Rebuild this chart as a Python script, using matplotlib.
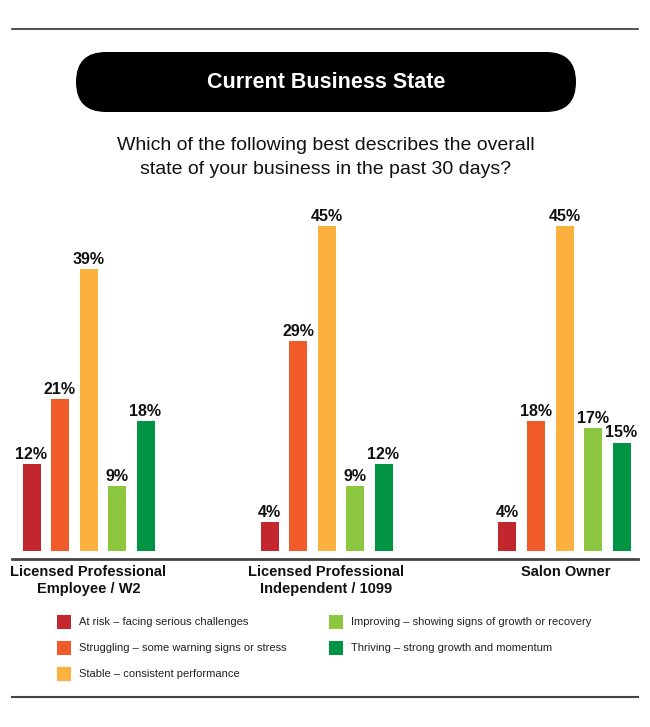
import matplotlib
matplotlib.use("Agg")
import matplotlib.pyplot as plt
from matplotlib.patches import FancyBboxPatch, Rectangle
from matplotlib.lines import Line2D
import numpy as np

plt.rcParams['font.family'] = ['Liberation Sans', 'DejaVu Sans']

groups = ["Licensed Professional\nEmployee / W2",
          "Licensed Professional\nIndependent / 1099",
          "Salon Owner"]
series = ["At risk \u2013 facing serious challenges",
          "Struggling \u2013 some warning signs or stress",
          "Stable \u2013 consistent performance",
          "Improving \u2013 showing signs of growth or recovery",
          "Thriving \u2013 strong growth and momentum"]
values = [
    [12, 4, 4],    # At risk
    [21, 29, 18],  # Struggling
    [39, 45, 45],  # Stable
    [9, 9, 17],    # Improving
    [18, 12, 15],  # Thriving
]
colors = ["#C1272D", "#F15A29", "#FBB040", "#8DC63F", "#009444"]

W, H = 650, 727
fig = plt.figure(figsize=(W / 100, H / 100), dpi=100)

def fx(px):
    return px / W

def fy(py):
    return 1 - py / H

# Axes: pixel x 12..638, y baseline 551 up to 200
ax_left, ax_right = 12, 638
ax_top, ax_bottom = 200, 551
ax = fig.add_axes([fx(ax_left), fy(ax_bottom), fx(ax_right - ax_left),
                   (ax_bottom - ax_top) / H])
px_per_unit = 238.0
px_per_pct = 7.23
centers_px = np.array([88.5, 326.5, 564.5]) - ax_left
ax.set_xlim(-centers_px[0] / px_per_unit,
            (ax_right - ax_left - centers_px[0]) / px_per_unit)
ax.set_ylim(0, (ax_bottom - ax_top) / px_per_pct)
ax.axis('off')

x = np.arange(len(groups))
bw = 18 / px_per_unit
step = 28.5 / px_per_unit
for i, (vals, c) in enumerate(zip(values, colors)):
    xs = x + (i - 2) * step
    ax.bar(xs, vals, width=bw, color=c, linewidth=0)
    for xi, v in zip(xs, vals):
        ax.annotate(f"{v}%", (xi, v), xytext=(0, 1.5), textcoords='offset points',
                    ha='center', va='bottom', fontsize=11.5, fontweight='bold',
                    color='#111111')

# Lines
fig.add_artist(Line2D([fx(12), fx(638)], [fy(29), fy(29)], color='#333333', lw=1.2))
fig.add_artist(Line2D([fx(12), fx(638)], [fy(558.5), fy(558.5)], color='#444444', lw=2))
fig.add_artist(Line2D([fx(12), fx(638)], [fy(697), fy(697)], color='#444444', lw=1.5))

# Title pill
pill = FancyBboxPatch((fx(76), fy(112)), fx(500), (112 - 52) / H,
                      boxstyle="round,pad=0,rounding_size=0.046",
                      transform=fig.transFigure, facecolor='black', edgecolor='none',
                      mutation_aspect=W / H)
fig.add_artist(pill)
fig.text(fx(326), fy(82), "Current Business State", ha='center', va='center',
         color='white', fontsize=15.5, fontweight='bold')

fig.text(fx(326), fy(145), "Which of the following best describes the overall",
         ha='center', va='center', fontsize=14, color='#111111')
fig.text(fx(326), fy(170), "state of your business in the past 30 days?",
         ha='center', va='center', fontsize=14, color='#111111')

# Category labels
for cx, g in zip([88.5, 326.5, 566], groups):
    fig.text(fx(cx), fy(565), g, ha='center', va='top', fontsize=10.5,
             fontweight='bold', color='#111111', linespacing=1.25)

# Legend
leg_pos = [(57, 622), (57, 648), (57, 674), (329, 622), (329, 648)]
for (lx, ly), s, c in zip(leg_pos, series, colors):
    fig.add_artist(Rectangle((fx(lx), fy(ly + 7)), fx(14), 14 / H,
                             transform=fig.transFigure, facecolor=c, edgecolor='none'))
    fig.text(fx(lx + 22), fy(ly), s, ha='left', va='center', fontsize=8,
             color='#222222')

fig.savefig("out.png", dpi=100, facecolor='white')
